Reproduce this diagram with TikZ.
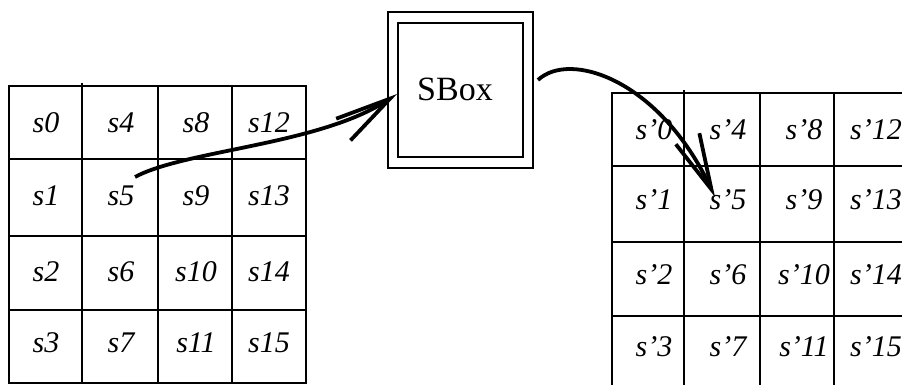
\documentclass[tikz,border=0pt]{standalone}
\usepackage{fontspec}
\setmainfont{Liberation Serif}
\usetikzlibrary{arrows.meta,calc}
\begin{document}
\begin{tikzpicture}[x=1pt,y=-1pt,
  cell/.style={font=\fontsize{30}{34}\selectfont\itshape, inner sep=0pt},
  gridframe/.style={line width=2.8pt},
  gridline/.style={line width=1.4pt},
  boxline/.style={draw, line width=1.9pt},
  flow/.style={line width=3.8pt,
    -{Straight Barb[length=56pt,width=26pt,line width=3.8pt,line cap=butt]}}]
\useasboundingbox (0,0) rectangle (902,385);
\fill[white] (0,0) rectangle (902,385);
\begin{scope}
\clip (0,0) rectangle (902,385);

% state before the substitution layer
\draw[gridline] (82,83) -- (82,383) (158,86) -- (158,383) (232,86) -- (232,383);
\draw[gridline] (9,159) -- (306,159) (9,236) -- (306,236) (9,310) -- (306,310);
\draw[gridframe] (9,86) rectangle (306,383);
\foreach \x [count=\c from 0] in {46,121,196,269}
  \foreach \y [count=\r from 0] in {123,196,272,343}
  {\pgfmathtruncatemacro\k{4*\c+\r}
   \node[cell] (L\k) at (\x,\y) {s\k};}

% state after the substitution layer
\draw[gridline] (684,90) -- (684,390) (760,93) -- (760,390) (834,93) -- (834,390);
\draw[gridline] (612,166) -- (908,166) (612,242) -- (908,242) (612,316) -- (908,316);
\draw[gridframe] (612,93) rectangle (908,390);
\foreach \x [count=\c from 0] in {654,728,804,876}
  \foreach \y [count=\r from 0] in {129.5,200,275,347}
  {\pgfmathtruncatemacro\k{4*\c+\r}
   \node[cell] (R\k) at (\x,\y) {s’\k};}

% S-box
\node[boxline, minimum width=125pt, minimum height=134pt] (sbox) at (460.5,90) {};
\node[boxline, minimum width=145pt, minimum height=156pt] (frame) at (sbox.center) {};
\node[font=\fontsize{34}{38}\selectfont, inner sep=0pt] (sboxlabel) at (455,89) {SBox};

% byte flow through the S-box
\draw[flow] ([xshift=14pt,yshift=19pt]L5.center)
  .. controls (185,150) and (320,145) .. ([yshift=-4pt]sbox.west);
\draw[flow] ([xshift=4pt,yshift=10pt]frame.east)
  .. controls (570,50) and (660,80) .. ([xshift=-13pt,yshift=3pt]R5.center);
\end{scope}
\end{tikzpicture}
\end{document}
